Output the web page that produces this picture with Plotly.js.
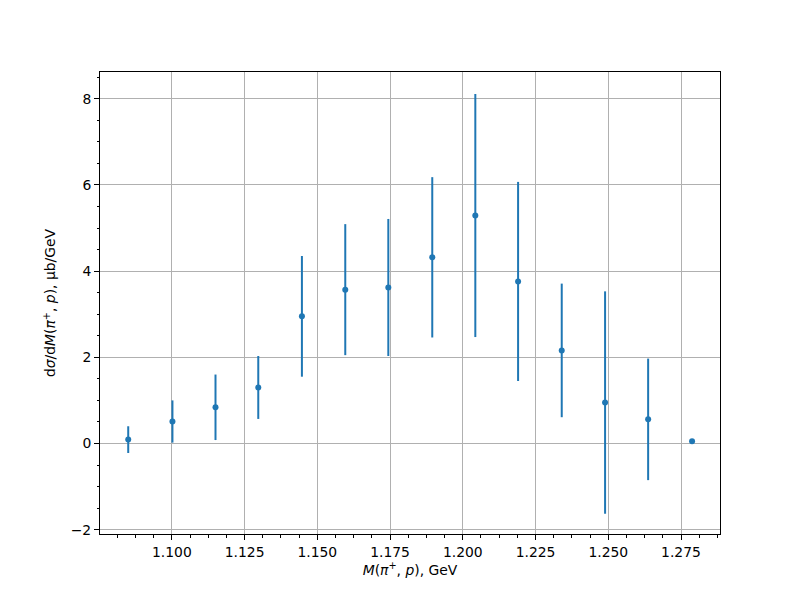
<!DOCTYPE html>
<html>
<head>
<meta charset="utf-8">
<script src="https://cdn.plot.ly/plotly-3.0.1.min.js"></script>
<style>html,body{margin:0;padding:0;background:#fff;}#chart{width:800px;height:600px;}</style>
</head>
<body>
<div id="chart"></div>
<script>
// Invariant mass bin centres, GeV
const massGeV = [1.0850, 1.1002, 1.1150, 1.1297, 1.1447, 1.1596, 1.1744, 1.1895, 1.2043, 1.2190, 1.2340, 1.2489, 1.2637, 1.2788];
// Differential cross section, μb/GeV
const dSigma = [0.09, 0.51, 0.84, 1.30, 2.95, 3.57, 3.62, 4.32, 5.29, 3.76, 2.16, 0.95, 0.56, 0.05];
// Symmetric errors
const dSigmaErr = [0.31, 0.49, 0.76, 0.73, 1.40, 1.52, 1.59, 1.86, 2.82, 2.31, 1.55, 2.58, 1.41, 0.0];

const blue = '#1f77b4';
const font = {family: 'DejaVu Sans, sans-serif', size: 13.9, color: '#000'};

const trace = {
  x: massGeV,
  y: dSigma,
  type: 'scatter',
  mode: 'markers',
  marker: {color: blue, size: 6},
  error_y: {type: 'data', array: dSigmaErr, visible: true, color: blue, thickness: 2, width: 0},
  showlegend: false,
  hoverinfo: 'x+y'
};

const axisCommon = {
  showline: true, mirror: true, linecolor: '#000', linewidth: 1,
  ticks: 'outside', ticklen: 5, tickwidth: 1, tickcolor: '#000',
  showgrid: true, gridcolor: '#b0b0b0', gridwidth: 1,
  zeroline: false, tickfont: font
};

const layout = {
  width: 800, height: 600,
  paper_bgcolor: '#fff', plot_bgcolor: '#fff',
  margin: {l: 100, r: 80, t: 72, b: 66},
  font: font,
  xaxis: Object.assign({}, axisCommon, {
    range: [1.0753, 1.2884],
    tick0: 1.1, dtick: 0.025, tickformat: '.3f',
    minor: {dtick: 0.00625, tick0: 1.1, ticklen: 2.5, tickcolor: '#000', ticks: 'outside', showgrid: false},
    title: {text: '<i>M</i>(<i>π</i><sup>+</sup>, <i>p</i>), GeV', font: font, standoff: 6}
  }),
  yaxis: Object.assign({}, axisCommon, {
    range: [-2.10, 8.62],
    tick0: 0, dtick: 2, tickformat: 'd',
    minor: {dtick: 0.5, tick0: 0, ticklen: 2.5, tickcolor: '#000', ticks: 'outside', showgrid: false},
    title: {text: 'd<i>σ</i>/d<i>M</i>(<i>π</i><sup>+</sup>, <i>p</i>), μb/GeV', font: font, standoff: 11}
  })
};

Plotly.newPlot('chart', [trace], layout, {displayModeBar: false, staticPlot: true});
</script>
</body>
</html>
